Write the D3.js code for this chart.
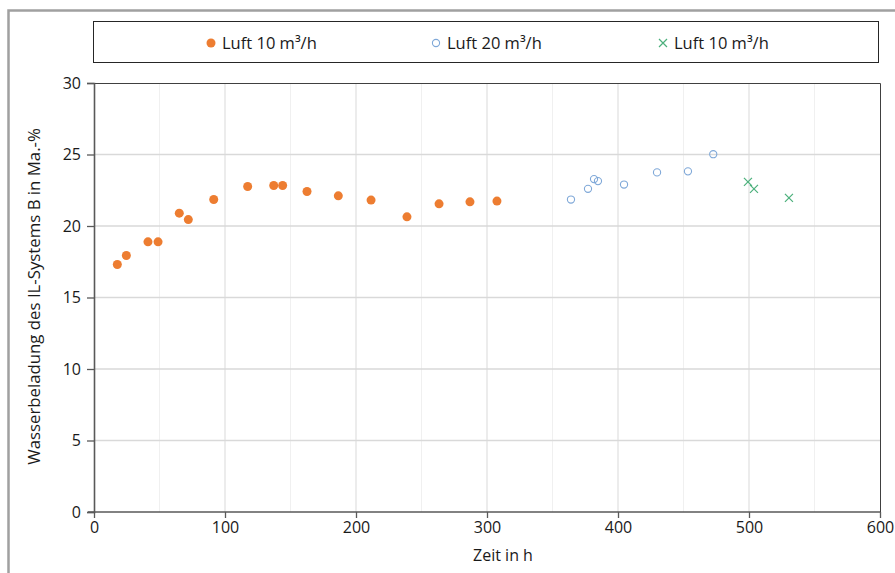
<!DOCTYPE html>
<html><head><meta charset="utf-8">
<script src="https://cdn.jsdelivr.net/npm/d3@7"></script>
<style>body{margin:0;background:#fff}svg{display:block}</style>
</head><body>
<svg id="c" width="895" height="573"></svg>
<script>
// Series 1: Luft 10 m³/h (orange filled circles)
const s1x = [17.8, 24.7, 41.2, 48.9, 65.1, 72.0, 91.4, 117.3, 137.2, 144.0, 162.6, 186.5, 211.5, 238.9, 263.4, 287.0, 307.6];
const s1y = [17.31, 17.94, 18.89, 18.89, 20.90, 20.45, 21.85, 22.76, 22.83, 22.83, 22.41, 22.11, 21.81, 20.64, 21.55, 21.69, 21.74];
// Series 2: Luft 20 m³/h (hollow blue circles)
const s2x = [364.1, 377.1, 381.7, 384.7, 404.6, 429.8, 453.4, 472.7];
const s2y = [21.85, 22.60, 23.28, 23.14, 22.90, 23.75, 23.82, 25.02];
// Series 3: Luft 10 m³/h (green crosses)
const s3x = [499.2, 503.8, 530.5];
const s3y = [23.09, 22.60, 21.97];
const legendLabels = ["Luft 10 m³/h", "Luft 20 m³/h", "Luft 10 m³/h"];
const xTicks = [0, 100, 200, 300, 400, 500, 600];
const yTicks = [0, 5, 10, 15, 20, 25, 30];
const xTitle = "Zeit in h";
const yTitle = "Wasserbeladung des IL-Systems B in Ma.-%";

const svg = d3.select("#c");
const font = "'Open Sans', sans-serif";
const L = 94, R = 880, T = 83, B = 512;
const x = d3.scaleLinear().domain([0, 600]).range([L, R]);
const y = d3.scaleLinear().domain([0, 30]).range([B, T]);

// outer chart border
svg.append("path").attr("d", `M8.5,573 L8.5,10.5 L895,10.5`).attr("fill","none").attr("stroke","#a0a0a0").attr("stroke-width",2.5);

// minor vertical gridlines
svg.append("g").selectAll("line").data(d3.range(50, 600, 100)).join("line")
  .attr("x1", d => x(d)).attr("x2", d => x(d)).attr("y1", T).attr("y2", B)
  .attr("stroke", "#f0f0f0").attr("stroke-width", 1);
// major vertical gridlines
svg.append("g").selectAll("line").data(xTicks.slice(1, -1)).join("line")
  .attr("x1", d => x(d)).attr("x2", d => x(d)).attr("y1", T).attr("y2", B)
  .attr("stroke", "#d9d9d9").attr("stroke-width", 1);
// horizontal gridlines
svg.append("g").selectAll("line").data(yTicks.slice(1, -1)).join("line")
  .attr("x1", L).attr("x2", R).attr("y1", d => y(d)).attr("y2", d => y(d))
  .attr("stroke", "#d9d9d9").attr("stroke-width", 1.3);

// plot frame top/right
svg.append("path").attr("d", `M${L},${T+0.5} L${R+0.5},${T+0.5} L${R+0.5},${B}`).attr("fill","none").attr("stroke","#404040").attr("stroke-width",1);

// axes
const xAxis = svg.append("g").attr("transform", `translate(0,${B})`)
  .call(d3.axisBottom(x).tickValues(xTicks).tickSize(6).tickPadding(4).tickFormat(d3.format("d")));
const yAxis = svg.append("g").attr("transform", `translate(${L},0)`)
  .call(d3.axisLeft(y).tickValues(yTicks).tickSize(7).tickPadding(6).tickFormat(d3.format("d")));
[xAxis, yAxis].forEach(a => {
  a.select(".domain").attr("stroke", "#595959").attr("stroke-width", 1.6);
  a.selectAll(".tick line").attr("stroke", "#595959").attr("stroke-width", 1.3);
  a.selectAll("text").attr("fill", "#1a1a1a").style("font-family", font).style("font-size", "16px");
});
xAxis.select(".domain").attr("d", `M${L-6},0H${R}`);

// titles
svg.append("text").attr("x", 503).attr("y", 561).attr("text-anchor", "middle")
  .style("font-family", font).style("font-size", "16px").attr("fill", "#1a1a1a").text(xTitle);
svg.append("text").attr("transform", `translate(40,${(T+B)/2 - 1}) rotate(-90)`).attr("text-anchor", "middle")
  .style("font-family", font).style("font-size", "16.8px").attr("fill", "#1a1a1a").text(yTitle);

// data
const orange = "#ED7D31", blue = "#7FA8D8", green = "#4CB07C";
const d1 = s1x.map((v, i) => [v, s1y[i]]);
const d2 = s2x.map((v, i) => [v, s2y[i]]);
const d3d = s3x.map((v, i) => [v, s3y[i]]);
svg.append("g").selectAll("circle").data(d1).join("circle")
  .attr("cx", d => x(d[0])).attr("cy", d => y(d[1])).attr("r", 4.5).attr("fill", orange);
svg.append("g").selectAll("circle").data(d2).join("circle")
  .attr("cx", d => x(d[0])).attr("cy", d => y(d[1])).attr("r", 3.6).attr("fill", "none").attr("stroke", blue).attr("stroke-width", 1.1);
const cross = (cx, cy, s) => `M${cx-s},${cy-s}L${cx+s},${cy+s}M${cx-s},${cy+s}L${cx+s},${cy-s}`;
svg.append("g").selectAll("path").data(d3d).join("path")
  .attr("d", d => cross(x(d[0]), y(d[1]), 4)).attr("stroke", green).attr("stroke-width", 1.2).attr("fill", "none");

// legend
svg.append("rect").attr("x", 93.5).attr("y", 21.5).attr("width", 785).attr("height", 41)
  .attr("fill", "#fff").attr("stroke", "#262626").attr("stroke-width", 1);
const lx = [211, 436, 663], ly = 43;
const lg = svg.append("g");
lg.append("circle").attr("cx", lx[0]).attr("cy", ly).attr("r", 4.5).attr("fill", orange);
lg.append("circle").attr("cx", lx[1]).attr("cy", ly).attr("r", 3.6).attr("fill", "none").attr("stroke", blue).attr("stroke-width", 1.1);
lg.append("path").attr("d", cross(lx[2], ly, 4)).attr("stroke", green).attr("stroke-width", 1.2).attr("fill", "none");
lg.selectAll("text").data(legendLabels).join("text")
  .attr("x", (d, i) => lx[i] + 11).attr("y", ly + 6)
  .style("font-family", font).style("font-size", "16.5px").attr("fill", "#1a1a1a").text(d => d);
</script>
</body></html>
